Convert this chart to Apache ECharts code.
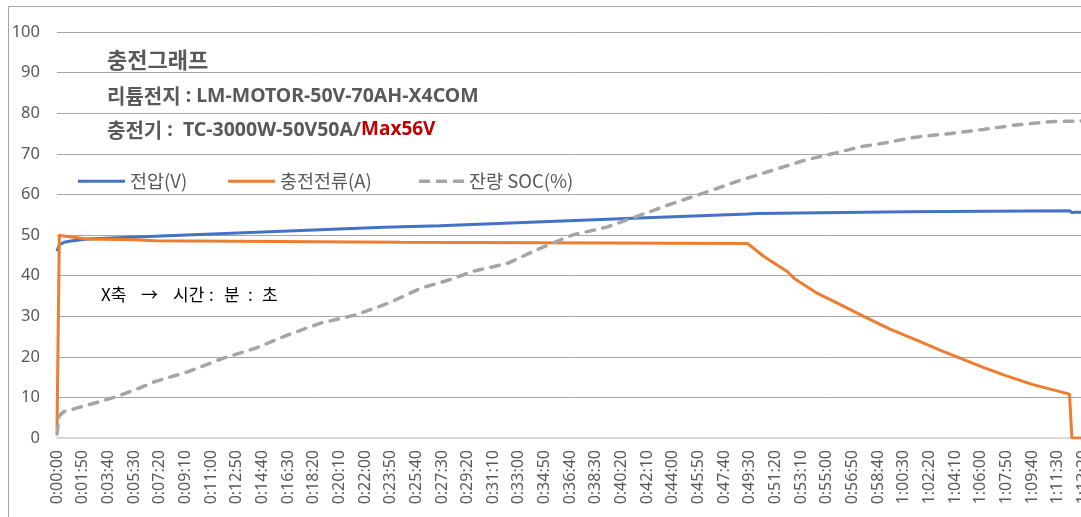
<!DOCTYPE html>
<html>
<head>
<meta charset="utf-8">
<script src="https://cdn.jsdelivr.net/npm/echarts@6/dist/echarts.min.js"></script>
<style>
html,body{margin:0;padding:0;background:#fff;}
#c{width:1081px;height:517px;}
</style>
</head>
<body>
<div id="c"></div>
<script>
// ---- data (time in seconds since start) ----
const voltTime = [0, 10, 30, 60, 130, 420, 1400, 1640, 2470, 2960, 3000, 3640, 4340, 4350, 4360, 4600];
const voltVal  = [46.0, 47.6, 48.2, 48.5, 49.0, 49.7, 51.9, 52.3, 54.1, 55.2, 55.3, 55.7, 56.0, 55.5, 55.6, 55.6];

const currTime = [0, 10, 20, 130, 330, 420, 1470, 2960, 3030, 3130, 3160, 3260, 3360, 3460, 3570, 3690, 3790, 3860, 3970, 4070, 4180, 4340, 4350, 4600];
const currVal  = [2, 50.0, 49.8, 49.0, 48.8, 48.6, 48.2, 47.9, 44.7, 41.0, 39.3, 35.6, 32.8, 29.9, 26.8, 24.0, 21.5, 19.9, 17.4, 15.3, 13.2, 10.8, 0, 0];

const socTime = [0, 10, 30, 80, 180, 260, 350, 420, 560, 710, 850, 990, 1130, 1280, 1420, 1560, 1690, 1780, 1930, 2070, 2210, 2360, 2500, 2640, 2790, 2930, 3070, 3210, 3360, 3440, 3540, 3680, 3830, 3970, 4110, 4260, 4390, 4600];
const socVal  = [1, 5.5, 6.5, 7.3, 8.9, 10.3, 12.2, 13.9, 16.3, 19.6, 22.1, 25.4, 28.3, 30.3, 33.2, 36.9, 39.1, 41.0, 43.0, 46.7, 50.0, 52.0, 54.9, 57.8, 60.7, 63.5, 66.0, 68.5, 70.5, 71.7, 72.6, 74.1, 75.0, 76.0, 77.1, 77.9, 78.1, 78.1];

const seriesNames = ['전압(V)', '충전전류(A)', '잔량 SOC(%)'];
const yTicks = [0, 10, 20, 30, 40, 50, 60, 70, 80, 90, 100];
const xTickStep = 110;   // seconds between time labels
const xMax = 4510;

const titleMain = '충전그래프';
const batteryLabel = '리튬전지';
const batteryModel = ' : LM-MOTOR-50V-70AH-X4COM';
const chargerLabel = '충전기';
const chargerModel = ' :  TC-3000W-50V50A/';
const chargerMax = 'Max56V';
const notePieces = ['X축', '→', '시간', ':', '분', ':', '초'];

function pairs(t, v) { return t.map((x, i) => [x, v[i]]); }
function hms(s) {
  const h = Math.floor(s / 3600), m = Math.floor((s % 3600) / 60), sec = Math.round(s % 60);
  return h + ':' + String(m).padStart(2, '0') + ':' + String(sec).padStart(2, '0');
}

const FONT = '"Noto Sans", "Noto Sans CJK KR", sans-serif';
const KFONT = '"Noto Sans CJK KR", "Noto Sans", sans-serif';
const pxPerSec = 0.2333;
const colors = ['#4472c4', '#ed7d31', '#a5a5a5'];
const solidIcon = 'path://M0,0H47V3H0Z';
const dashIcon = 'path://M0,0H11V3.5H0Z M17,0H28V3.5H17Z M34,0H45V3.5H34Z';

const legendBase = {top: 172, padding: 0, itemHeight: 14, textStyle: {fontSize: 18.5, color: '#595959', fontFamily: KFONT}};
const notePos = [101, 141, 173, 209, 224, 248, 262];

const chart = echarts.init(document.getElementById('c'), null, {renderer: 'canvas'});
chart.setOption({
  animation: false,
  backgroundColor: '#fff',
  grid: {left: 57, top: 32, height: 406, width: xMax * pxPerSec, containLabel: false, outerBoundsMode: 'none'},
  xAxis: {
    type: 'value', min: 0, max: xMax, interval: xTickStep,
    axisLine: {show: true, lineStyle: {color: '#d9d9d9', width: 2}},
    axisTick: {show: false},
    splitLine: {show: false},
    axisLabel: {rotate: 90, margin: 12, fontSize: 16, color: '#595959', fontFamily: FONT,
      showMaxLabel: false, hideOverlap: false, formatter: v => hms(v)}
  },
  yAxis: {
    type: 'value', min: yTicks[0], max: yTicks[yTicks.length - 1], interval: 10,
    axisLine: {show: false}, axisTick: {show: false},
    splitLine: {lineStyle: {color: '#a6a6a6', width: 1}},
    axisLabel: {fontSize: 16.5, color: '#595959', margin: 17, fontFamily: FONT}
  },
  legend: [
    Object.assign({}, legendBase, {left: 78, itemWidth: 47, data: [{name: seriesNames[0], icon: solidIcon}]}),
    Object.assign({}, legendBase, {left: 228, itemWidth: 47, data: [{name: seriesNames[1], icon: solidIcon}]}),
    Object.assign({}, legendBase, {left: 419, itemWidth: 45, data: [{name: seriesNames[2], icon: dashIcon}]})
  ],
  series: [
    {name: seriesNames[0], type: 'line', symbol: 'none', data: pairs(voltTime, voltVal),
      lineStyle: {color: colors[0], width: 3}, itemStyle: {color: colors[0]}},
    {name: seriesNames[1], type: 'line', symbol: 'none', data: pairs(currTime, currVal),
      lineStyle: {color: colors[1], width: 3}, itemStyle: {color: colors[1]}},
    {name: seriesNames[2], type: 'line', symbol: 'none', data: pairs(socTime, socVal),
      lineStyle: {color: colors[2], width: 3.5, type: [8.5, 8.5], cap: 'round'}, itemStyle: {color: colors[2]}}
  ],
  graphic: [
    {type: 'rect', left: 6, top: 4, shape: {width: 1200, height: 511}, silent: true, z: -1,
      style: {fill: 'none', stroke: '#a6a6a6', lineWidth: 1}},
    {type: 'text', left: 107, top: 49, z: 10, style: {text: titleMain, font: 'bold 22px ' + KFONT, fill: '#595959'}},
    {type: 'text', left: 107, top: 86, z: 10, style: {
      text: '{k|' + batteryLabel + '}{l|' + batteryModel + '}',
      rich: {k: {font: 'bold 20px ' + KFONT, fill: '#595959', verticalAlign: 'middle'},
             l: {font: 'bold 19.5px ' + FONT, fill: '#595959', verticalAlign: 'middle'}}}},
    {type: 'text', left: 107, top: 120, z: 10, style: {
      text: '{k|' + chargerLabel + '}{l|' + chargerModel + '}{r|' + chargerMax + '}',
      rich: {k: {font: 'bold 20px ' + KFONT, fill: '#595959', verticalAlign: 'middle'},
             l: {font: 'bold 19.5px ' + FONT, fill: '#595959', verticalAlign: 'middle'},
             r: {font: 'bold 19px ' + FONT, fill: '#c00000', verticalAlign: 'middle'}}}}
  ].concat(notePieces.map((p, i) => ({
    type: 'text', left: notePos[i], top: 286, z: 10,
    style: {text: p, font: '17px ' + KFONT, fill: '#000'}
  })))
});
</script>
</body>
</html>
